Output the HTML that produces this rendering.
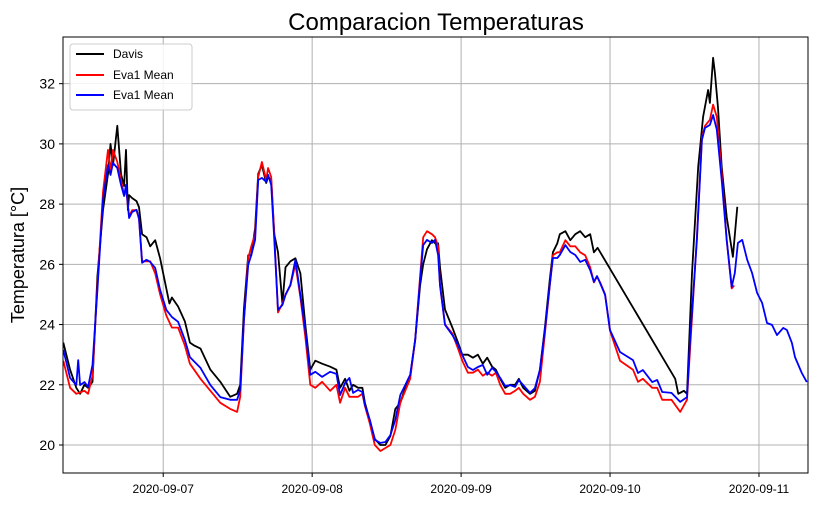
<!DOCTYPE html>
<html><head><meta charset="utf-8"><style>
body{margin:0;background:#fff;}
svg{display:block;font-family:"Liberation Sans","DejaVu Sans",sans-serif;}
</style></head><body>
<svg id="chart" width="818" height="505" viewBox="0 0 818 505" xmlns="http://www.w3.org/2000/svg">
<text x="436" y="30" font-size="24" text-anchor="middle">Comparacion Temperaturas</text>
<text x="0" y="0" font-size="18" text-anchor="middle" transform="translate(24,255) rotate(-90)">Temperatura [°C]</text>
<g id="grid"></g><g id="series"></g><g id="axes"></g>
<g>
<rect x="70" y="44" width="122" height="66" rx="3" fill="#fff" fill-opacity="0.85" stroke="#ccc"/>
<line x1="76" y1="54" x2="104" y2="54" stroke="#000" stroke-width="2"/>
<text x="113" y="58" font-size="12">Davis</text>
<line x1="76" y1="75" x2="104" y2="75" stroke="#f00" stroke-width="2"/>
<text x="113" y="79" font-size="12">Eva1 Mean</text>
<line x1="76" y1="95" x2="104" y2="95" stroke="#00f" stroke-width="2"/>
<text x="113" y="99" font-size="12">Eva1 Mean</text>
</g>
</svg>
<script>
// hours since 2020-09-06 00:00
const yTicks=[20,22,24,26,28,30,32];
const xTickHours=[24,48,72,96,120];
const xTickLabels=["2020-09-07","2020-09-08","2020-09-09","2020-09-10","2020-09-11"];
const blueT=[7.9,9.0,10.0,10.3,10.6,11.3,11.9,12.6,13.4,14.3,15.1,15.5,15.9,16.6,17.2,17.7,18.0,18.5,19.0,19.7,20.1,20.6,21.3,21.9,22.7,23.5,24.5,25.4,26.4,27.5,28.3,30.0,31.6,33.2,34.8,35.9,36.4,37.0,37.7,38.2,38.8,39.3,39.9,40.6,40.9,41.4,41.9,42.5,43.2,43.7,44.5,45.3,46.1,46.9,47.7,48.5,49.6,50.9,51.9,52.5,53.3,54.0,54.6,55.4,56.1,56.5,57.3,58.1,59.0,59.8,60.6,61.4,62.2,63.0,63.8,64.6,65.4,65.9,66.5,67.3,67.8,68.3,68.6,69.4,70.6,71.5,72.2,73.1,73.9,74.7,75.5,76.2,77.0,77.6,78.3,79.1,79.9,80.7,81.3,82.0,83.1,83.9,84.7,85.5,86.3,86.8,87.5,87.9,88.8,89.6,90.4,91.2,92.0,92.8,93.4,93.9,94.4,95.2,96.0,97.6,99.7,100.5,101.3,102.8,103.6,104.4,105.9,107.3,108.4,108.9,110.0,110.8,111.3,112.1,112.6,113.2,114.0,114.8,115.6,116.1,116.6,117.3,118.1,118.9,119.7,120.5,121.3,122.1,122.9,123.9,124.5,125.3,125.8,126.9,127.7];
const blueV=[23.16,22.23,21.99,22.82,21.99,22.09,21.93,22.66,25.15,28.14,29.30,28.97,29.37,29.20,28.64,28.27,28.64,27.54,27.74,27.81,27.54,26.05,26.15,26.08,25.88,25.15,24.49,24.25,24.09,23.49,22.92,22.56,21.99,21.59,21.50,21.50,21.83,24.15,25.98,26.31,26.81,28.80,28.87,28.74,28.97,28.64,26.81,24.49,24.65,24.98,25.32,26.15,24.98,23.82,22.33,22.43,22.26,22.43,22.36,21.66,22.06,22.23,21.73,21.83,21.76,21.33,20.83,20.17,20.07,20.10,20.33,20.83,21.66,21.99,22.33,23.49,25.48,26.64,26.81,26.71,26.81,26.31,25.32,23.99,23.65,23.32,22.99,22.59,22.49,22.59,22.66,22.33,22.56,22.43,22.23,21.96,21.99,21.93,22.16,21.99,21.73,21.89,22.49,23.82,25.32,26.21,26.21,26.31,26.64,26.41,26.31,26.08,26.15,25.81,25.42,25.61,25.38,24.98,23.82,23.09,22.82,22.39,22.49,22.09,22.16,21.76,21.73,21.43,21.59,23.49,26.81,30.13,30.53,30.63,30.96,30.47,28.80,26.81,25.25,25.71,26.71,26.81,26.15,25.71,25.05,24.72,24.05,23.99,23.65,23.89,23.82,23.39,22.92,22.39,22.09];
const redT=[7.9,9.0,10.0,11.3,11.9,12.6,13.4,14.3,15.1,15.5,15.9,16.6,17.2,17.7,18.0,18.5,19.0,19.7,20.1,20.6,21.3,21.9,22.7,23.5,24.5,25.4,26.4,27.5,28.3,30.0,31.6,33.2,34.8,35.9,36.4,37.0,37.7,38.2,38.8,39.3,39.9,40.6,40.9,41.4,41.9,42.5,43.2,43.7,44.5,45.3,46.1,46.9,47.7,48.5,49.6,50.9,51.9,52.5,53.3,54.0,54.6,55.4,56.1,56.5,57.3,58.1,59.0,59.8,60.6,61.4,62.2,63.0,63.8,64.6,65.4,65.9,66.5,67.3,67.8,68.3,68.6,69.4,70.6,71.5,72.2,73.1,73.9,74.7,75.5,76.2,77.0,77.6,78.3,79.1,79.9,80.7,81.3,82.0,83.1,83.9,84.7,85.5,86.3,86.8,87.5,87.9,88.8,89.6,90.4,91.2,92.0,92.8,93.4,93.9,94.4,95.2,96.0,97.6,99.7,100.5,101.3,102.8,103.6,104.4,105.9,107.3,108.4,108.9,110.0,110.8,111.3,112.1,112.6,113.2,114.0,114.8,115.6,116.0];
const redV=[22.8,21.9,21.7,21.8,21.7,22.3,25.3,28.4,29.8,29.1,29.8,29.4,28.8,28.3,28.5,27.6,27.8,27.8,27.5,26.1,26.1,26.1,25.7,25.0,24.3,23.9,23.9,23.3,22.7,22.2,21.8,21.4,21.2,21.1,21.6,24.1,26.2,26.6,27.0,28.9,29.4,28.8,29.2,28.9,27.0,24.4,24.7,25.0,25.3,26.0,24.9,23.6,22.0,21.9,22.1,21.8,22.0,21.4,21.9,21.6,21.6,21.6,21.7,21.3,20.7,20.0,19.8,19.9,20.0,20.5,21.4,21.8,22.2,23.5,25.6,26.9,27.1,27.0,26.9,26.6,25.3,24.0,23.7,23.2,22.8,22.4,22.4,22.5,22.3,22.4,22.3,22.4,22.0,21.7,21.7,21.8,21.9,21.7,21.5,21.6,22.1,23.7,25.3,26.3,26.4,26.4,26.8,26.6,26.6,26.4,26.3,25.9,25.4,25.6,25.4,25.0,23.8,22.8,22.5,22.1,22.2,21.9,21.9,21.5,21.5,21.1,21.5,23.2,26.9,30.2,30.6,30.8,31.3,30.9,29.0,26.8,25.2,25.3];
const davisT=[7.9,9.0,10.0,10.6,11.3,11.9,12.6,13.4,14.3,15.1,15.5,15.9,16.6,17.2,17.7,18.0,18.3,18.5,19.0,19.7,20.1,20.6,21.3,21.9,22.7,23.5,24.5,25.0,25.4,26.4,27.5,28.3,29.0,30.0,31.6,33.2,34.8,35.9,36.4,37.0,37.7,38.2,38.8,39.3,39.9,40.6,40.9,41.4,41.9,42.5,43.2,43.7,44.5,45.3,46.1,46.9,47.7,48.5,49.6,50.9,51.9,52.5,53.3,54.0,54.6,55.4,56.1,56.5,57.3,58.1,59.0,59.8,60.6,61.4,62.2,63.0,63.8,64.6,65.4,65.9,66.5,67.3,67.8,68.3,68.6,69.4,70.6,71.5,72.2,73.1,73.9,74.7,75.5,76.2,77.0,77.6,78.3,79.1,79.9,80.7,81.3,82.0,83.1,83.9,84.7,85.5,86.3,86.8,87.5,87.9,88.8,89.6,90.4,91.2,92.0,92.8,93.4,94.0,106.5,107.0,107.9,108.4,109.2,110.2,111.0,111.8,112.1,112.6,112.9,113.4,114.0,114.8,115.8,116.5];
const davisV=[23.4,22.5,21.9,21.7,22.0,21.9,22.1,25.6,27.8,29.0,30.0,29.3,30.6,29.0,28.6,29.8,27.8,28.3,28.2,28.1,27.9,27.0,26.9,26.6,26.8,26.2,25.2,24.7,24.9,24.6,24.1,23.4,23.3,23.2,22.5,22.1,21.6,21.7,22.0,24.5,26.3,26.3,27.2,29.0,29.3,28.7,28.9,28.8,27.0,26.4,24.7,25.9,26.1,26.2,25.7,24.0,22.5,22.8,22.7,22.6,22.5,21.9,22.2,21.8,22.0,21.9,21.9,21.4,20.8,20.2,20.0,20.0,20.3,21.2,21.4,21.9,22.3,23.5,25.3,26.0,26.5,26.8,26.7,26.7,25.9,24.5,23.9,23.4,23.0,23.0,22.9,23.0,22.7,22.9,22.6,22.5,22.2,21.9,22.0,22.0,22.2,21.9,21.7,21.8,22.5,23.9,25.5,26.4,26.7,27.0,27.1,26.8,27.0,27.1,26.9,27.0,26.4,26.55,22.2,21.7,21.8,21.7,25.7,29.24,30.9,31.79,31.36,32.86,32.36,31.2,29.24,27.57,26.25,27.91];

const L=63,R=808,T=37,B=473,xmin=7.85,xmax=127.9,ymin=19.07,ymax=33.55;
const xs=h=>L+(h-xmin)/(xmax-xmin)*(R-L);
const ys=v=>B-(v-ymin)/(ymax-ymin)*(B-T);
const NS="http://www.w3.org/2000/svg";
function mk(tag,attrs,parent){const e=document.createElementNS(NS,tag);for(const k in attrs)e.setAttribute(k,attrs[k]);parent.appendChild(e);return e;}
const grid=document.getElementById('grid'),axes=document.getElementById('axes'),ser=document.getElementById('series');
yTicks.forEach(v=>{const y=ys(v);
 const g=mk('line',{x1:L,x2:R,y1:y,y2:y,stroke:'#b0b0b0','stroke-width':1},grid);
 
 
 mk('line',{x1:L-4,x2:L,y1:y,y2:y,stroke:'#000'},axes);
 const t=mk('text',{x:L-8,y:y+5,'font-size':14,'text-anchor':'end'},axes);t.textContent=v;
 
 
});
xTickHours.forEach((h,i)=>{const x=xs(h);
 const g=mk('line',{x1:x,x2:x,y1:T,y2:B,stroke:'#b0b0b0','stroke-width':1},grid);
 
 
 mk('line',{x1:x,x2:x,y1:B,y2:B+4,stroke:'#000'},axes);
 const t=mk('text',{x:x,y:B+20,'font-size':12,'text-anchor':'middle'},axes);t.textContent=xTickLabels[i];
 
 
});
const fr=mk('rect',{x:L,y:T,width:R-L,height:B-T,fill:'none',stroke:'#000','stroke-width':1},axes);


function line(T_,V_,col,name){
 const d=T_.map((h,i)=>(i?'L':'M')+xs(h).toFixed(1)+','+ys(V_[i]).toFixed(1)).join('');
 const p=mk('path',{d:d,fill:'none',stroke:col,'stroke-width':1.8,'stroke-linejoin':'round'},ser);
 
 
}
line(davisT,davisV,'#000','davis-line');
line(redT,redV,'#f00','eva1-red-line');
line(blueT,blueV,'#00f','eva1-blue-line');
</script>
</body></html>
